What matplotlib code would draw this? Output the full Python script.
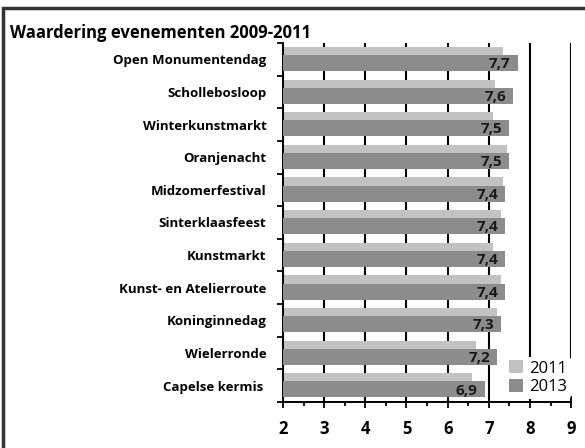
import numpy as np
import matplotlib
matplotlib.use('Agg')
import matplotlib.pyplot as plt
from matplotlib.patches import Rectangle
from matplotlib.ticker import MultipleLocator

plt.rcParams['font.family'] = ['Open Sans', 'DejaVu Sans']

evenementen = ['Open Monumentendag', 'Schollebosloop', 'Winterkunstmarkt', 'Oranjenacht',
               'Midzomerfestival', 'Sinterklaasfeest', 'Kunstmarkt', 'Kunst- en Atelierroute',
               'Koninginnedag', 'Wielerronde', 'Capelse kermis ']
waardering_2011 = [7.35, 7.15, 7.1, 7.45, 7.35, 7.3, 7.1, 7.3, 7.2, 6.7, 6.6]
waardering_2013 = [7.7, 7.6, 7.5, 7.5, 7.4, 7.4, 7.4, 7.4, 7.3, 7.2, 6.9]
jaren = ['2011', '2013']

licht = '#c2c2c2'
donker = '#8c8c8c'

fig = plt.figure(figsize=(5.85, 4.48), dpi=100)
ax = fig.add_axes([0.4838, 0.1027, 0.4924, 0.8013])

y = np.arange(len(evenementen))
ax.barh(y - 0.255, [v - 2 for v in waardering_2011], left=2, height=0.25,
        color=licht, label=jaren[0], zorder=2)
ax.barh(y + 0.115, [v - 2 for v in waardering_2013], left=2, height=0.49,
        color=donker, label=jaren[1], zorder=3)

for yi, v in zip(y, waardering_2013):
    ax.annotate(f'{v:.1f}'.replace('.', ','), (v, yi + 0.15), xytext=(-5, 0),
                textcoords='offset points', ha='right', va='center',
                fontsize=11, fontweight='bold', color='#1a1a1a', zorder=4)

ax.set_xlim(2, 9)
ax.set_ylim(len(evenementen) - 0.5, -0.5)
ax.xaxis.set_major_locator(MultipleLocator(1))
ax.xaxis.set_minor_locator(MultipleLocator(0.5))
ax.set_yticks(y)
ax.set_yticklabels(evenementen, fontsize=9.5, fontweight='bold')
ax.set_yticks(np.arange(-0.5, len(evenementen)), minor=True)
ax.tick_params(axis='y', which='major', length=0, pad=12)
ax.tick_params(axis='y', which='minor', length=4, width=1.3, direction='out')
ax.tick_params(axis='x', which='major', length=8, width=1.3, direction='inout',
               labelsize=12, pad=9)
ax.tick_params(axis='x', which='minor', length=3, width=1.3, direction='out')
for lbl in ax.get_xticklabels():
    lbl.set_fontweight('bold')

ax.grid(axis='x', which='major', color='black', linewidth=1.5)
ax.set_axisbelow(True)
for s in ['top', 'right']:
    ax.spines[s].set_visible(False)
for s in ['left', 'bottom']:
    ax.spines[s].set_linewidth(1.4)

leg = ax.legend(loc='lower right', bbox_to_anchor=(1.01, 0.0), frameon=True,
                fontsize=12, handlelength=0.8, handleheight=0.8, handletextpad=0.4,
                labelspacing=0.15, borderpad=0.2, borderaxespad=0.2)
leg.get_frame().set_edgecolor('none')
leg.get_frame().set_facecolor('white')
leg.get_frame().set_alpha(1)
leg.set_zorder(5)

fig.text(10 / 585, 1 - 38 / 448, 'Waardering evenementen 2009-2011', fontsize=12,
         fontweight='bold', va='baseline', ha='left')

fig.patches.append(Rectangle((2.5 / 585, -0.1), 1.2, 1.1 - 8.5 / 448, transform=fig.transFigure,
                             fill=False, edgecolor='#333333', linewidth=2.5))

fig.savefig('out.png', dpi=100)
